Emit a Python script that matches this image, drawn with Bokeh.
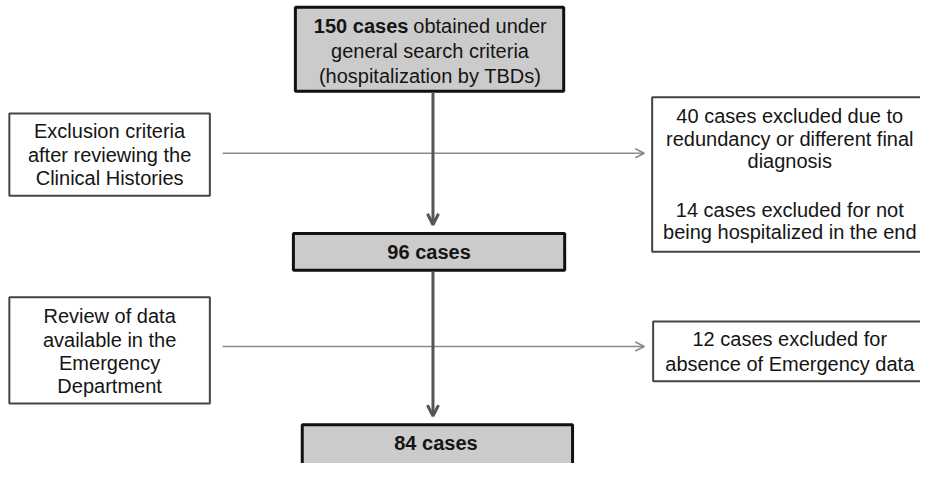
from bokeh.plotting import figure
from bokeh.models import Range1d, Arrow, OpenHead
from bokeh.core.properties import value
from bokeh.embed import file_html
from bokeh.resources import INLINE

# ---- data (case counts and labels) ----
total_cases = 150
excluded_step1 = [40, 14]
after_step1 = 96
excluded_step2 = [12]
final_cases = 84

top_lines_rest = ["general search criteria", "(hospitalization by TBDs)"]
step1_criteria = ["Exclusion criteria", "after reviewing the", "Clinical Histories"]
step1_excl = [f"{excluded_step1[0]} cases excluded due to", "redundancy or different final", "diagnosis",
              f"{excluded_step1[1]} cases excluded for not", "being hospitalized in the end"]
step2_criteria = ["Review of data", "available in the", "Emergency", "Department"]
step2_excl = [f"{excluded_step2[0]} cases excluded for", "absence of Emergency data"]

FONT = value("Liberation Sans")
FS = "20px"
TXT = "#151515"

p = figure(width=920, height=463, x_range=Range1d(0, 936), y_range=Range1d(481, 2),
           output_backend="svg", toolbar_location=None, min_border=0,
           x_axis_type=None, y_axis_type=None)
p.grid.visible = False
p.outline_line_color = None
p.background_fill_color = "white"
p.border_fill_color = "white"

# ---- boxes ----
# main (gray) boxes
p.quad(left=[300, 298, 307], right=[573, 574, 582], top=[9, 243, 441], bottom=[96, 281, 495],
       fill_color="#cbcbcb", line_color="#111111", line_width=3)
# side boxes
p.quad(left=[9, 9, 663, 664], right=[213, 213, 950, 950], top=[119, 309, 102, 334],
       bottom=[204, 419, 262, 396], fill_color="white", line_color="#444444", line_width=2)

# ---- connectors ----
p.add_layout(Arrow(x_start=226, y_start=160, x_end=655, y_end=160, line_color="#8a8a8a", line_width=1.5,
                   end=OpenHead(size=9, line_color="#8a8a8a", line_width=1.5)))
p.add_layout(Arrow(x_start=226, y_start=360, x_end=655, y_end=360, line_color="#8a8a8a", line_width=1.5,
                   end=OpenHead(size=9, line_color="#8a8a8a", line_width=1.5)))
p.add_layout(Arrow(x_start=440, y_start=97, x_end=440, y_end=234, line_color="#555555", line_width=3,
                   end=OpenHead(size=11, line_color="#555555", line_width=3)))
p.add_layout(Arrow(x_start=440, y_start=282, x_end=440, y_end=432, line_color="#555555", line_width=3,
                   end=OpenHead(size=11, line_color="#555555", line_width=3)))

def lines(x, ys, texts, bold=False, align="center"):
    p.text(x=[x] * len(ys), y=ys, text=texts, text_font=FONT, text_font_size=FS,
           text_align=align, text_baseline="middle", text_color=TXT,
           text_font_style="bold" if bold else "normal")

# top box
lines(415, [28], [f"{total_cases} cases"], bold=True, align="right")
lines(420, [28], ["obtained under"], align="left")
lines(437, [54, 80], top_lines_rest)
# step boxes
lines(436, [262], [f"{after_step1} cases"], bold=True)
lines(443, [460], [f"{final_cases} cases"], bold=True)
# side boxes
lines(111, [137, 162, 186], step1_criteria)
lines(111, [328, 353, 377, 401], step2_criteria)
lines(803, [122, 145, 168, 219, 242], step1_excl)
lines(803, [352, 378], step2_excl)

open("out.html", "w").write(file_html(p, INLINE))
